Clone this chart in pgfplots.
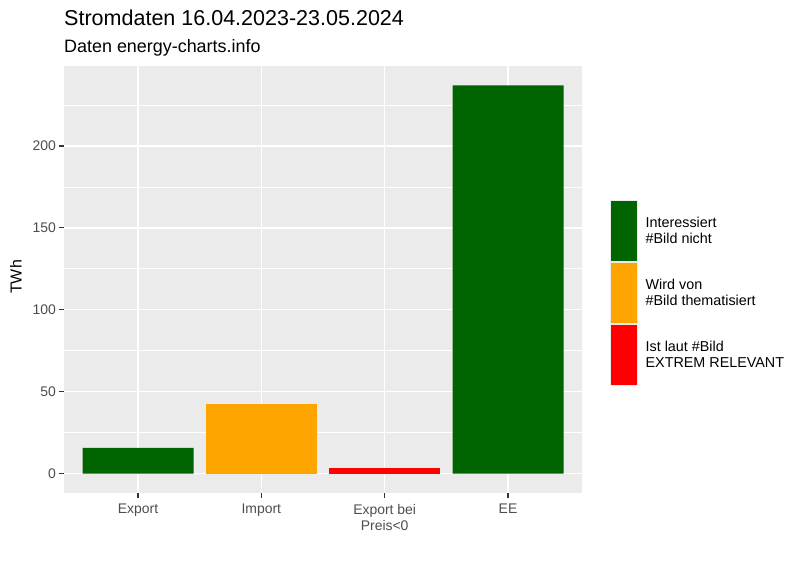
\documentclass[border=0pt]{standalone}
\usepackage{fontspec}
\setmainfont{Liberation Sans}
\usepackage{pgfplots}
\pgfplotsset{compat=1.18}
\definecolor{panelbg}{HTML}{EBEBEB}
\definecolor{ggdark}{HTML}{006400}
\definecolor{ggorange}{HTML}{FFA500}
\definecolor{ggred}{HTML}{FF0000}
\definecolor{ticktext}{HTML}{4D4D4D}
\definecolor{tickcol}{HTML}{333333}
\begin{document}
\begin{tikzpicture}[x=1bp,y=1bp]
\path[use as bounding box] (-64,-72) rectangle (743,493);
\begin{axis}[
  at={(0,0)}, anchor=south west,
  width=518bp, height=427bp, scale only axis,
  xmin=0.4, xmax=4.6, ymin=-11.85, ymax=248.85,
  axis background/.style={fill=panelbg},
  axis line style={draw=none},
  xtick={1,2,3,4},
  xticklabels={Export, Import, {Export bei\\Preis<0}, EE},
  ytick={0,50,100,150,200},
  minor ytick={25,75,125,175,225},
  grid=both,
  major grid style={white, line width=1.4bp},
  minor grid style={white, line width=0.7bp},
  tick align=outside, major tick length=4.7bp, minor tick length=0pt,
  xtick pos=bottom, ytick pos=left,
  major tick style={tickcol, line width=1.1bp},
  xticklabel style={font=\fontsize{14}{16}\selectfont, text=ticktext, align=center, yshift=-3bp},
  yticklabel style={font=\fontsize{14}{16}\selectfont, text=ticktext},
  /pgf/number format/assume math mode=true,
  ylabel={TWh},
  ylabel style={font=\fontsize{16}{18}\selectfont, at={(axis description cs:-0.093,0.506)}, anchor=center},
  legend style={at={(axis description cs:1.0482,0.6907)}, anchor=north west, draw=none, fill=none,
    row sep=0pt, column sep=7.5bp,
    nodes={inner sep=0pt, align=left, font=\fontsize{14.4}{16.5}\selectfont}},
  legend cell align=left,
  legend image code/.code={%
    \fill[panelbg] (0bp,-31bp) rectangle (28bp,31bp);
    \path[#1,draw=none] (1bp,-30bp) rectangle (27bp,30bp);},
]
\addplot[ybar, bar width=0.9, bar shift=0pt, fill=ggdark, draw=none] coordinates {(1,15.7) (4,237.0)};
\addlegendentry{Interessiert\\\#Bild nicht}
\addplot[ybar, bar width=0.9, bar shift=0pt, fill=ggorange, draw=none] coordinates {(2,42.5)};
\addlegendentry{Wird von\\\#Bild thematisiert}
\addplot[ybar, bar width=0.9, bar shift=0pt, fill=ggred, draw=none] coordinates {(3,3.5)};
\addlegendentry{Ist laut \#Bild\\EXTREM RELEVANT}
\end{axis}
\node[anchor=base west, inner sep=0pt, font=\fontsize{21.6}{25}\selectfont] at (0,467) {Stromdaten 16.04.2023-23.05.2024};
\node[anchor=base west, inner sep=0pt, font=\fontsize{18}{21}\selectfont] at (0,440) {Daten energy-charts.info};
\end{tikzpicture}
\end{document}
